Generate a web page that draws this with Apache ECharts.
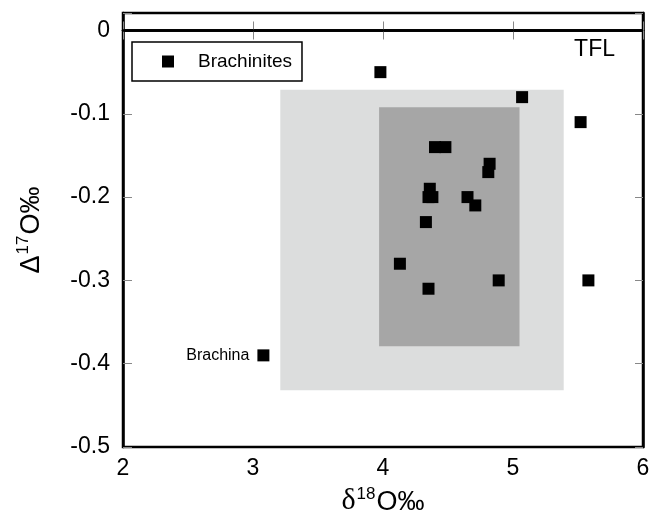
<!DOCTYPE html>
<html>
<head>
<meta charset="utf-8">
<script src="https://cdn.jsdelivr.net/npm/echarts@6/dist/echarts.min.js"></script>
<style>
  html, body { margin: 0; padding: 0; background: #fff; }
  #chart { width: 651px; height: 519px; }
</style>
</head>
<body>
<div id="chart"></div>
<script>
// brachinite oxygen isotopes
const d18O = [3.98, 5.07, 5.52, 4.40, 4.48, 4.82, 4.81, 4.36, 4.35, 4.38, 4.65, 4.71, 4.33, 4.13, 4.35, 4.89, 5.58, 3.08]
const D17O = [-0.05, -0.08, -0.11, -0.14, -0.14, -0.16, -0.17, -0.19, -0.20, -0.20, -0.20, -0.21, -0.23, -0.28, -0.31, -0.30, -0.30, -0.39]
const pointNames = ['', '', '', '', '', '', '', '', '', '', '', '', '', '', '', '', '', 'Brachina']

// shaded fields: [x0, x1], [y0, y1]
const fieldX = [[3.21, 5.39], [3.97, 5.05]]
const fieldY = [[-0.071, -0.432], [-0.092, -0.379]]
const fieldColors = ['#dcdddd', '#a6a6a6']

const xTicks = [2, 3, 4, 5, 6]
const yTicks = [-0.5, -0.4, -0.3, -0.2, -0.1, 0]

const font = 'Liberation Sans, Arial, sans-serif'
const chart = echarts.init(document.getElementById('chart'))

const points = d18O.map((x, i) => {
	const p = { value: [x, D17O[i]] }
	if (pointNames[i]) {
		p.label = {
			show: true,
			position: 'left',
			distance: 8,
			formatter: pointNames[i],
			fontFamily: font,
			fontSize: 16,
			color: '#000',
		}
	}
	return p
})

const areas = fieldX.map((fx, i) => [
	{ coord: [fx[0], fieldY[i][0]], itemStyle: { color: fieldColors[i], opacity: 1 } },
	{ coord: [fx[1], fieldY[i][1]] },
])

const tickFmt = v => {
	const r = Math.round(v * 10) / 10
	return Math.abs(v - r) < 1e-6 ? String(r) : ''
}

const superRich = {
	d: { fontFamily: 'Liberation Serif, serif', fontSize: 30, color: '#000', lineHeight: 30, verticalAlign: 'bottom' },
	D: { fontFamily: font, fontSize: 27, color: '#000', lineHeight: 30, verticalAlign: 'bottom' },
	s: { fontFamily: font, fontSize: 17, color: '#000', lineHeight: 17, verticalAlign: 'top', padding: [0, 1, 0, 1] },
	a: { fontFamily: font, fontSize: 27, color: '#000', lineHeight: 30, verticalAlign: 'bottom' },
}

let option = {
	animation: false,
	grid: {
		left: 123,
		right: 8,
		top: 13,
		bottom: 72,
		outerBoundsMode: 'none',
		containLabel: false,
		show: true,
		borderColor: '#000',
		borderWidth: 2.5,
	},
	legend: {
		left: 132,
		top: 42,
		data: ['Brachinites'],
		icon: 'rect',
		itemWidth: 12,
		itemHeight: 12,
		padding: [10, 10, 10, 30],
		borderColor: '#000',
		borderWidth: 1.5,
		textStyle: { fontFamily: font, fontSize: 19, color: '#000', padding: [0, 0, 0, 19] },
	},
	graphic: [
		{
			type: 'text',
			right: 36,
			top: 38,
			style: { text: 'TFL', fontFamily: font, fontSize: 23, fill: '#000' },
		},
	],
	xAxis: [
		{
			type: 'value',
			min: xTicks[0],
			max: xTicks[xTicks.length - 1],
			interval: 1,
			name: '{d|δ}{s|18}{a|O‰}',
			nameLocation: 'middle',
			nameGap: 39,
			nameTextStyle: { rich: superRich },
			axisLine: { show: true, lineStyle: { color: '#000', width: 2.5 } },
			axisTick: { show: true, inside: true, length: 9, lineStyle: { color: '#888', width: 1 } },
			axisLabel: { fontFamily: font, fontSize: 23, color: '#000', margin: 10 },
			splitLine: { show: false },
		},
		{
			type: 'value',
			position: 'top',
			min: xTicks[0],
			max: xTicks[xTicks.length - 1],
			interval: 1,
			axisLine: { show: true, lineStyle: { color: '#000', width: 2.5 } },
			axisTick: { show: true, inside: true, length: 9, lineStyle: { color: '#888', width: 1 } },
			axisLabel: { show: false },
			splitLine: { show: false },
		},
	],
	yAxis: [
		{
			type: 'value',
			min: yTicks[0],
			max: 0.021,
			interval: 0.1,
			name: '{D|Δ}{s|17}{a|O‰}',
			nameLocation: 'middle',
			nameGap: 78,
			nameTextStyle: { rich: superRich },
			axisLine: { show: true, lineStyle: { color: '#000', width: 2.5 } },
			axisTick: { show: true, inside: true, length: 9, lineStyle: { color: '#888', width: 1 } },
			axisLabel: { fontFamily: font, fontSize: 23, color: '#000', margin: 13, formatter: tickFmt },
			splitLine: { show: false },
		},
		{
			type: 'value',
			position: 'right',
			min: yTicks[0],
			max: 0.021,
			interval: 0.1,
			axisLine: { show: true, lineStyle: { color: '#000', width: 2.5 } },
			axisTick: { show: true, inside: true, length: 8, lineStyle: { color: '#888', width: 1 } },
			axisLabel: { show: false },
			splitLine: { show: false },
		},
	],
	series: [
		{
			name: 'fields',
			type: 'scatter',
			data: [],
			z: 1,
			markArea: { silent: true, data: areas },
			markLine: {
				silent: true,
				symbol: 'none',
				label: { show: false },
				lineStyle: { color: '#000', width: 2.5, type: 'solid' },
				data: [{ yAxis: 0 }],
			},
		},
		{
			name: 'Brachinites',
			type: 'scatter',
			symbol: 'rect',
			symbolSize: 12,
			z: 5,
			itemStyle: { color: '#000', opacity: 1 },
			data: points,
		},
	],
}

chart.setOption(option)
</script>
</body>
</html>
